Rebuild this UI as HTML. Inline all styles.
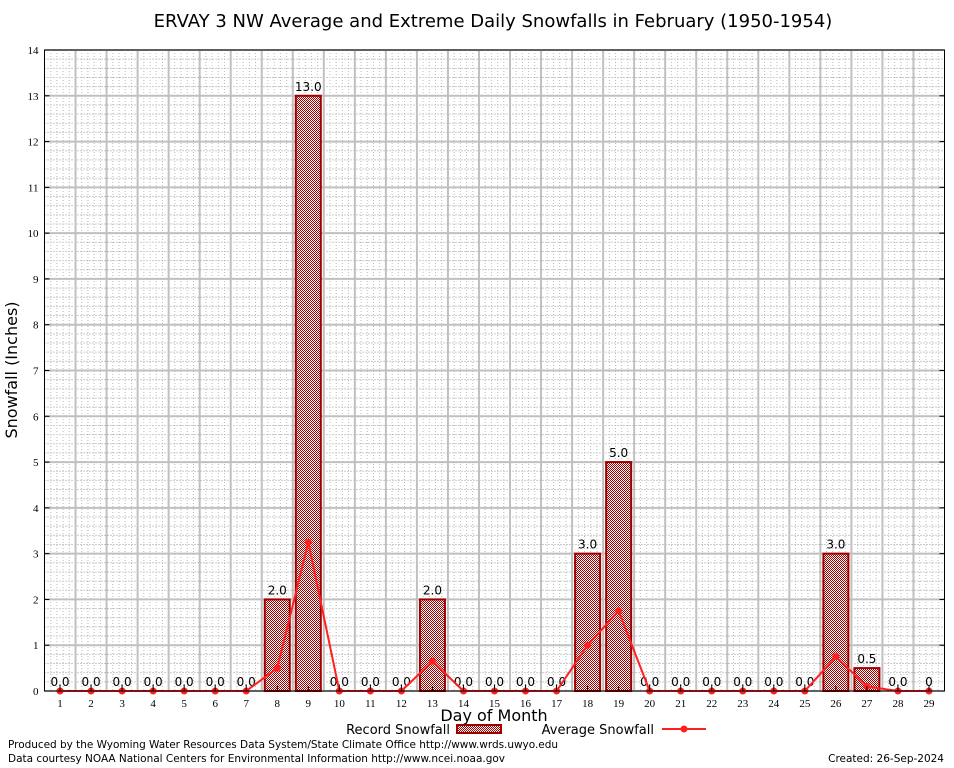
<!DOCTYPE html>
<html><head><meta charset="utf-8"><style>
body{margin:0;background:#fff;}
svg{display:block;font-family:"DejaVu Sans","Liberation Sans",sans-serif;}
</style></head><body>
<svg id="chart" width="954" height="768" viewBox="0 0 954 768">
<defs>
<pattern id="chk" width="2" height="2" patternUnits="userSpaceOnUse"><rect width="2" height="2" fill="#fff"/><rect width="1" height="1" fill="#a00000"/><rect x="1" y="1" width="1" height="1" fill="#a00000"/></pattern>
</defs>
<rect x="0" y="0" width="954" height="768" fill="#fff"/>
<text x="493" y="27" font-size="18" text-anchor="middle">ERVAY 3 NW Average and Extreme Daily Snowfalls in February (1950-1954)</text>
<g id="grid"></g>
<g id="bars"></g>
<g id="line"></g>
<g id="axes"></g>
<text x="17" y="370" font-size="16" text-anchor="middle" transform="rotate(-90 17 370)">Snowfall (Inches)</text>
<text x="494" y="721" font-size="16" text-anchor="middle">Day of Month</text>
<g>
<text x="450" y="734" font-size="13" text-anchor="end">Record Snowfall</text>
<rect x="457" y="725" width="44" height="8" fill="url(#chk)" stroke="#a00000" stroke-width="2"/>
</g>
<g>
<text x="654" y="734" font-size="13" text-anchor="end">Average Snowfall</text>
<line x1="662" y1="729" x2="706" y2="729" stroke="#ff2020" stroke-width="2"/>
<circle cx="684" cy="729" r="3.5" fill="#ff2020"/>
</g>
<text x="8" y="748" font-size="10.5" textLength="550">Produced by the Wyoming Water Resources Data System/State Climate Office http://www.wrds.uwyo.edu</text>
<text x="8" y="762" font-size="10.5" textLength="497">Data courtesy NOAA National Centers for Environmental Information http://www.ncei.noaa.gov</text>
<text x="944" y="762" font-size="10.5" text-anchor="end">Created: 26-Sep-2024</text>
</svg>
<script>
const days=[1,2,3,4,5,6,7,8,9,10,11,12,13,14,15,16,17,18,19,20,21,22,23,24,25,26,27,28,29];
const recordVals=[0,0,0,0,0,0,0,2,13,0,0,0,2,0,0,0,0,3,5,0,0,0,0,0,0,3,0.5,0,0];
const recordLabels=["0.0","0.0","0.0","0.0","0.0","0.0","0.0","2.0","13.0","0.0","0.0","0.0","2.0","0.0","0.0","0.0","0.0","3.0","5.0","0.0","0.0","0.0","0.0","0.0","0.0","3.0","0.5","0.0","0"];
const avgVals=[0,0,0,0,0,0,0,0.5,3.25,0,0,0,0.65,0,0,0,0,1.0,1.75,0,0,0,0,0,0,0.75,0.1,0,0];
const yTicks=[0,1,2,3,4,5,6,7,8,9,10,11,12,13,14];
const NS='http://www.w3.org/2000/svg';
const L=44.5,R=944.5,T=50,B=691;
const xs=d=>L+(d-0.5)/29*(R-L);
const ys=v=>B-v/14*(B-T);
function mk(tag,at,p){const e=document.createElementNS(NS,tag);for(const k in at)e.setAttribute(k,at[k]);p.appendChild(e);return e;}
const grid=document.getElementById('grid'),bars=document.getElementById('bars'),line=document.getElementById('line'),axes=document.getElementById('axes');
for(let v=0;v<=14;v+=0.2){const y=ys(v);const l=mk('line',{x1:L,x2:R,y1:y,y2:y,stroke:'#999','stroke-width':1,'stroke-dasharray':'1 2'},grid);}
for(let d=0.5;d<=29.5;d+=0.2){const x=xs(d);const l=mk('line',{x1:x,x2:x,y1:T,y2:B,stroke:'#bbb','stroke-width':1,'stroke-dasharray':'1 2'},grid);}
yTicks.forEach(v=>{const y=ys(v);const l=mk('line',{x1:L,x2:R,y1:y,y2:y,stroke:'#c0c0c0','stroke-width':2},grid);
const t=mk('text',{x:L-6,y:y+4,'font-size':11,'text-anchor':'end','font-family':'Liberation Serif, serif'},axes);t.textContent=v;
mk('line',{x1:L,x2:L+5,y1:y,y2:y,stroke:'#000'},axes);mk('line',{x1:R,x2:R-5,y1:y,y2:y,stroke:'#000'},axes);});
for(let i=1;i<29;i++){const x=xs(i+0.5);const l=mk('line',{x1:x,x2:x,y1:T,y2:B,stroke:'#c0c0c0','stroke-width':2},grid);}
days.forEach((d,i)=>{const x=xs(d);
if(recordVals[i]>0){const w=25;const r=mk('rect',{x:x-w/2,y:ys(recordVals[i]),width:w,height:B-ys(recordVals[i]),fill:'url(#chk)',stroke:'#a00000','stroke-width':2},bars);}
const t=mk('text',{x:x,y:ys(recordVals[i])-5,'font-size':12,'text-anchor':'middle'},bars);t.textContent=recordLabels[i];
const tl=mk('text',{x:x,y:707,'font-size':11,'text-anchor':'middle','font-family':'Liberation Serif, serif'},axes);tl.textContent=d;
mk('line',{x1:x,x2:x,y1:B,y2:B-5,stroke:'#000'},axes);});
const pts=days.map((d,i)=>xs(d)+','+ys(avgVals[i])).join(' ');
const pl=mk('polyline',{points:pts,fill:'none',stroke:'#ff2020','stroke-width':2},line);
days.forEach((d,i)=>{const c=mk('circle',{cx:xs(d),cy:ys(avgVals[i]),r:3.5,fill:'#ff2020'},line);});
const fr=mk('rect',{x:L,y:T,width:R-L,height:B-T,fill:'none',stroke:'#000','stroke-width':1},axes);
</script>
</body></html>
